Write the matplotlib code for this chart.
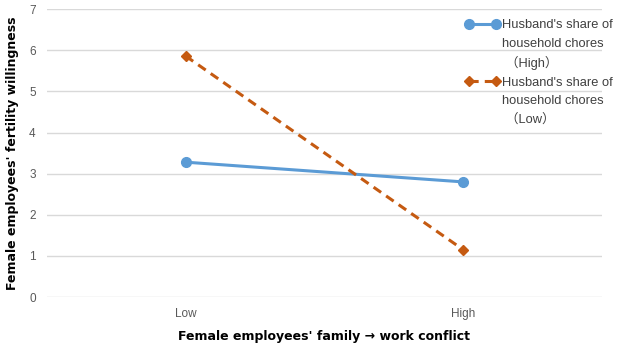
import matplotlib.pyplot as plt
from matplotlib.lines import Line2D

categories = ["Low", "High"]
high_chores = [3.28, 2.80]
low_chores = [5.86, 1.15]
label_high = ["Husband's share of", "household chores", " （High）"]
label_low = ["Husband's share of", "household chores", " （Low）"]

plt.rcParams['font.family'] = ['Liberation Sans', 'Noto Sans CJK SC', 'DejaVu Sans']

fig = plt.figure(figsize=(6.24, 3.52), dpi=100)
ax = fig.add_axes([0.075, 0.156, 0.89, 0.818])

x = [0, 1]
h1, = ax.plot(x, high_chores, color='#5b9bd5', lw=2.2, marker='o', markersize=7)
h2, = ax.plot(x, low_chores, color='#c55a11', lw=2.2, ls=(0, (3, 2)), marker='D', markersize=5)

ax.set_xlim(-0.5, 1.5)
ax.set_ylim(0, 7)
ax.set_yticks(range(8))
ax.set_xticks(x)
ax.set_xticklabels(categories)
ax.grid(axis='y', color='#d9d9d9', lw=1)
ax.set_axisbelow(True)
for s in ax.spines.values():
    s.set_visible(False)
ax.tick_params(length=0, labelsize=8.5, colors='#595959', pad=8)

ax.set_xlabel("Female employees' family \u2192 work conflict", fontsize=9, fontweight='bold',
              labelpad=7, family=['DejaVu Sans'])
ax.set_ylabel("Female employees' fertility willingness", fontsize=9, fontweight='bold',
              labelpad=7, family=['DejaVu Sans'])

# legend rows: the line handle sits on the first text line of each entry
blank = Line2D([], [], linestyle='none')
handles = [h1, blank, blank, h2, blank, blank]
leg = fig.legend(handles, label_high + label_low, loc='upper left',
                 bbox_to_anchor=(465 / 624, 1 - 19 / 352), frameon=False,
                 fontsize=9.3, handlelength=2.7, handletextpad=0.15, labelspacing=0.5,
                 borderpad=0, borderaxespad=0, numpoints=2)
for t in leg.get_texts():
    t.set_color('#404040')

fig.savefig('out.png', dpi=100)
